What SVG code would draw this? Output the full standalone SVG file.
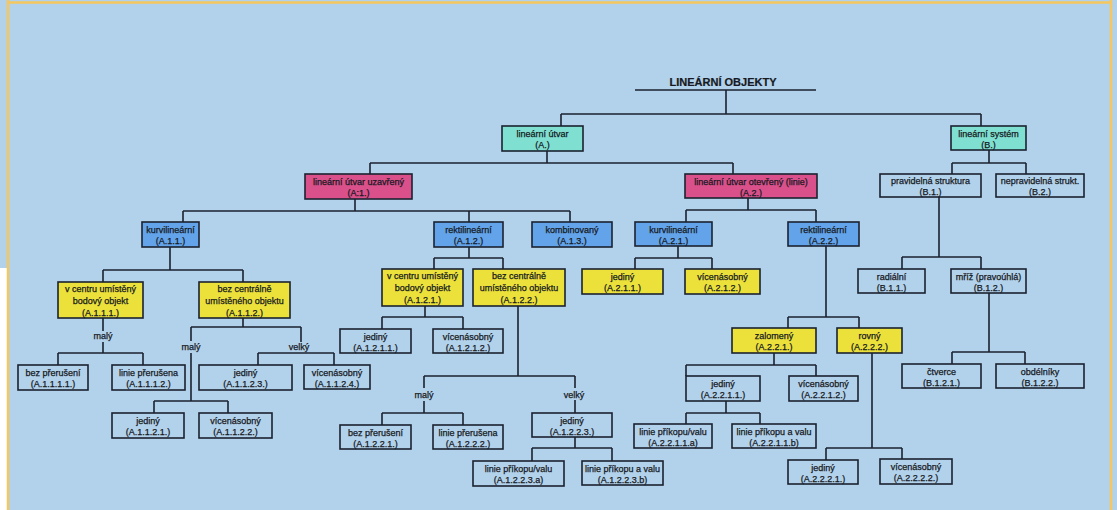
<svg xmlns="http://www.w3.org/2000/svg" width="1117" height="510" viewBox="0 0 1117 510">
<style>
.bx{stroke:#1b2230;stroke-width:1.6}
.n{fill:none}.cy{fill:#7fe0d2}.mg{fill:#d9508a}.bl{fill:#62a3ea}.ye{fill:#ebe13a}
text{font-family:"Liberation Sans",Arial,sans-serif;font-size:9px;fill:#161922;stroke:#161922;stroke-width:0.25;text-anchor:middle}
.t{font-size:11px;font-weight:bold;stroke-width:0.2}
.c path{fill:none;stroke:#1b2230;stroke-width:1.6}
</style>
<rect x="0" y="0" width="1117" height="510" fill="#b2d1eb"/>
<rect x="0" y="268" width="7" height="242" fill="#ffffff"/>
<path d="M8 0 V510 M8 2.5 H1111 M1111 0 V510" fill="none" stroke="#f5c75e" stroke-width="2.5"/>
<text class="t" x="723" y="86">LINEÁRNÍ OBJEKTY</text>
<g class="c" id="connectors">
<path d="M635 90 H816 M726 90 V114 M561 114 H981 M561 114 V126 M981 114 V126"/>
<path d="M547 151 V163 M370 163 H733 M370 163 V174 M733 163 V174"/>
<path d="M989 150 V163 M952 163 H1026 M952 163 V174 M1026 163 V174"/>
<path d="M355 199 V211 M183 211 H570 M183 211 V222 M469 211 V222 M570 211 V222"/>
<path d="M170 247 V270 M103 270 H243 M103 270 V282 M243 270 V282"/>
<path d="M103 318 V331 M103 342 V353 M58 353 H143 M58 353 V365 M143 353 V365"/>
<path d="M243 318 V327 M191 327 H301 M191 327 V341 M191 353 V401 M154 401 H228 M154 401 V413 M228 401 V413 M301 327 V342 M258 353 H334 M258 353 V365 M334 353 V365"/>
<path d="M469 247 V258 M434 258 H503 M434 258 V269 M503 258 V269"/>
<path d="M425 306 V317 M382 317 H463 M382 317 V329 M463 317 V329"/>
<path d="M518 306 V376 M424 376 H575 M424 376 V388 M424 401 V413 M382 413 H463 M382 413 V425 M463 413 V425 M575 376 V388 M575 400 V413"/>
<path d="M575 437 V448 M532 448 H612 M532 448 V461 M612 448 V461"/>
<path d="M748 198 V210 M686 210 H816 M686 210 V222 M816 210 V222"/>
<path d="M678 246 V258 M635 258 H712 M635 258 V269 M712 258 V269"/>
<path d="M826 246 V317 M788 317 H859 M788 317 V328 M859 317 V328"/>
<path d="M774 353 V365 M686 365 H816 M686 365 V376 M816 365 V376"/>
<path d="M726 401 V413 M686 413 H760 M686 413 V424 M760 413 V424"/>
<path d="M872 353 V448 M826 448 H902 M826 448 V460 M902 448 V459"/>
<path d="M939 197 V257 M902 257 H981 M902 257 V269 M981 257 V269"/>
<path d="M989 293 V352 M952 352 H1025 M952 352 V364 M1025 352 V364"/>
<text x="103" y="339">malý</text>
<text x="191" y="350">malý</text>
<text x="299" y="350">velký</text>
<text x="424" y="398">malý</text>
<text x="574" y="398">velký</text>
</g>
<g id="A"><rect class="bx cy" x="502" y="126" width="81" height="25"/><text x="542.5" y="136.5">lineární útvar</text><text x="542.5" y="148">(A.)</text></g>
<g id="B"><rect class="bx cy" x="951" y="126" width="75" height="24"/><text x="988.5" y="136.5">lineární systém</text><text x="988.5" y="147.5">(B.)</text></g>
<g id="A1"><rect class="bx mg" x="305" y="174" width="107" height="25"/><text x="358.5" y="184.5">lineární útvar uzavřený</text><text x="358.5" y="196">(A:1.)</text></g>
<g id="A2"><rect class="bx mg" x="685" y="174" width="132" height="24"/><text x="751" y="184.5">lineární útvar otevřený (linie)</text><text x="751" y="195.5">(A.2.)</text></g>
<g id="B1"><rect class="bx n" x="880" y="174" width="101" height="23"/><text x="930.5" y="184">pravidelná struktura</text><text x="930.5" y="195">(B.1.)</text></g>
<g id="B2"><rect class="bx n" x="996" y="174" width="88" height="23"/><text x="1040" y="184">nepravidelná strukt.</text><text x="1040" y="195">(B.2.)</text></g>
<g id="A11"><rect class="bx bl" x="142" y="222" width="57" height="25"/><text x="170.5" y="232.5">kurvilineární</text><text x="170.5" y="244">(A.1.1.)</text></g>
<g id="A12"><rect class="bx bl" x="434" y="222" width="69" height="25"/><text x="468.5" y="232.5">rektilineární</text><text x="468.5" y="244">(A.1.2.)</text></g>
<g id="A13"><rect class="bx bl" x="532" y="222" width="80" height="25"/><text x="572" y="232.5">kombinovaný</text><text x="572" y="244">(A.1.3.)</text></g>
<g id="A21"><rect class="bx bl" x="635" y="222" width="77" height="24"/><text x="673.5" y="232.5">kurvilineární</text><text x="673.5" y="243.5">(A.2.1.)</text></g>
<g id="A22"><rect class="bx bl" x="788" y="222" width="71" height="24"/><text x="823.5" y="232.5">rektilineární</text><text x="823.5" y="243.5">(A.2.2.)</text></g>
<g id="A111"><rect class="bx ye" x="58" y="282" width="85" height="36"/><text x="100.5" y="291.5">v centru umístěný</text><text x="100.5" y="303.5">bodový objekt</text><text x="100.5" y="315.5">(A.1.1.1.)</text></g>
<g id="A112"><rect class="bx ye" x="199" y="282" width="91" height="36"/><text x="244.5" y="291.5">bez centrálně</text><text x="244.5" y="303.5">umístěného objektu</text><text x="244.5" y="315.5">(A.1.1.2.)</text></g>
<g id="A121"><rect class="bx ye" x="382" y="269" width="81" height="37"/><text x="422.5" y="279">v centru umístěný</text><text x="422.5" y="291">bodový objekt</text><text x="422.5" y="303">(A.1.2.1.)</text></g>
<g id="A122"><rect class="bx ye" x="473" y="269" width="92" height="37"/><text x="519" y="279">bez centrálně</text><text x="519" y="291">umístěného objektu</text><text x="519" y="303">(A.1.2.2.)</text></g>
<g id="A211"><rect class="bx ye" x="582" y="269" width="81" height="25"/><text x="622.5" y="279.5">jediný</text><text x="622.5" y="291">(A.2.1.1.)</text></g>
<g id="A212"><rect class="bx ye" x="685" y="269" width="75" height="25"/><text x="722.5" y="279.5">vícenásobný</text><text x="722.5" y="291">(A.2.1.2.)</text></g>
<g id="B11"><rect class="bx n" x="858" y="269" width="67" height="24"/><text x="891.5" y="279.5">radiální</text><text x="891.5" y="290.5">(B.1.1.)</text></g>
<g id="B12"><rect class="bx n" x="951" y="269" width="75" height="24"/><text x="988.5" y="279.5">mříž (pravoúhlá)</text><text x="988.5" y="290.5">(B.1.2.)</text></g>
<g id="A1211"><rect class="bx n" x="340" y="329" width="71" height="24"/><text x="375.5" y="339.5">jediný</text><text x="375.5" y="350.5">(A.1.2.1.1.)</text></g>
<g id="A1212"><rect class="bx n" x="433" y="329" width="70" height="24"/><text x="468" y="339.5">vícenásobný</text><text x="468" y="350.5">(A.1.2.1.2.)</text></g>
<g id="A221"><rect class="bx ye" x="732" y="328" width="84" height="25"/><text x="774" y="338.5">zalomený</text><text x="774" y="350">(A.2.2.1.)</text></g>
<g id="A222"><rect class="bx ye" x="837" y="328" width="65" height="25"/><text x="869.5" y="338.5">rovný</text><text x="869.5" y="350">(A.2.2.2.)</text></g>
<g id="B121"><rect class="bx n" x="902" y="364" width="79" height="24"/><text x="941.5" y="374.5">čtverce</text><text x="941.5" y="385.5">(B.1.2.1.)</text></g>
<g id="B122"><rect class="bx n" x="996" y="364" width="88" height="24"/><text x="1040" y="374.5">obdélníky</text><text x="1040" y="385.5">(B.1.2.2.)</text></g>
<g id="A1111"><rect class="bx n" x="18" y="365" width="70" height="25"/><text x="53" y="375.5">bez přerušení</text><text x="53" y="387">(A.1.1.1.1.)</text></g>
<g id="A1112"><rect class="bx n" x="112" y="365" width="73" height="25"/><text x="148.5" y="375.5">linie přerušena</text><text x="148.5" y="387">(A.1.1.1.2.)</text></g>
<g id="A1123"><rect class="bx n" x="199" y="365" width="93" height="25"/><text x="245.5" y="375.5">jediný</text><text x="245.5" y="387">(A.1.1.2.3.)</text></g>
<g id="A1124"><rect class="bx n" x="304" y="365" width="66" height="24"/><text x="337" y="375.5">vícenásobný</text><text x="337" y="386.5">(A.1.1.2.4.)</text></g>
<g id="A2211"><rect class="bx n" x="686" y="376" width="74" height="25"/><text x="723" y="386.5">jediný</text><text x="723" y="398">(A.2.2.1.1.)</text></g>
<g id="A2212"><rect class="bx n" x="789" y="376" width="69" height="25"/><text x="823.5" y="386.5">vícenásobný</text><text x="823.5" y="398">(A.2.2.1.2.)</text></g>
<g id="A1121"><rect class="bx n" x="112" y="413" width="72" height="25"/><text x="148" y="423.5">jediný</text><text x="148" y="435">(A.1.1.2.1.)</text></g>
<g id="A1122"><rect class="bx n" x="199" y="413" width="73" height="25"/><text x="235.5" y="423.5">vícenásobný</text><text x="235.5" y="435">(A.1.1.2.2.)</text></g>
<g id="A1223"><rect class="bx n" x="532" y="413" width="80" height="24"/><text x="572" y="423.5">jediný</text><text x="572" y="434.5">(A.1.2.2.3.)</text></g>
<g id="A1221"><rect class="bx n" x="340" y="425" width="71" height="24"/><text x="375.5" y="435.5">bez přerušení</text><text x="375.5" y="446.5">(A.1.2.2.1.)</text></g>
<g id="A1222"><rect class="bx n" x="433" y="425" width="70" height="24"/><text x="468" y="435.5">linie přerušena</text><text x="468" y="446.5">(A.1.2.2.2.)</text></g>
<g id="A22111a"><rect class="bx n" x="634" y="424" width="78" height="24"/><text x="673" y="434.5">linie příkopu/valu</text><text x="673" y="445.5">(A.2.2.1.1.a)</text></g>
<g id="A22111b"><rect class="bx n" x="732" y="424" width="84" height="24"/><text x="774" y="434.5">linie příkopu a valu</text><text x="774" y="445.5">(A.2.2.1.1.b)</text></g>
<g id="A12223a"><rect class="bx n" x="473" y="461" width="91" height="25"/><text x="518.5" y="471.5">linie příkopu/valu</text><text x="518.5" y="483">(A.1.2.2.3.a)</text></g>
<g id="A12223b"><rect class="bx n" x="582" y="461" width="81" height="24"/><text x="622.5" y="471.5">linie příkopu a valu</text><text x="622.5" y="482.5">(A.1.2.2.3.b)</text></g>
<g id="A2221"><rect class="bx n" x="788" y="460" width="70" height="24"/><text x="823" y="470.5">jediný</text><text x="823" y="481.5">(A.2.2.2.1.)</text></g>
<g id="A2222"><rect class="bx n" x="880" y="459" width="72" height="25"/><text x="916" y="469.5">vícenásobný</text><text x="916" y="481">(A.2.2.2.2.)</text></g>
</svg>
